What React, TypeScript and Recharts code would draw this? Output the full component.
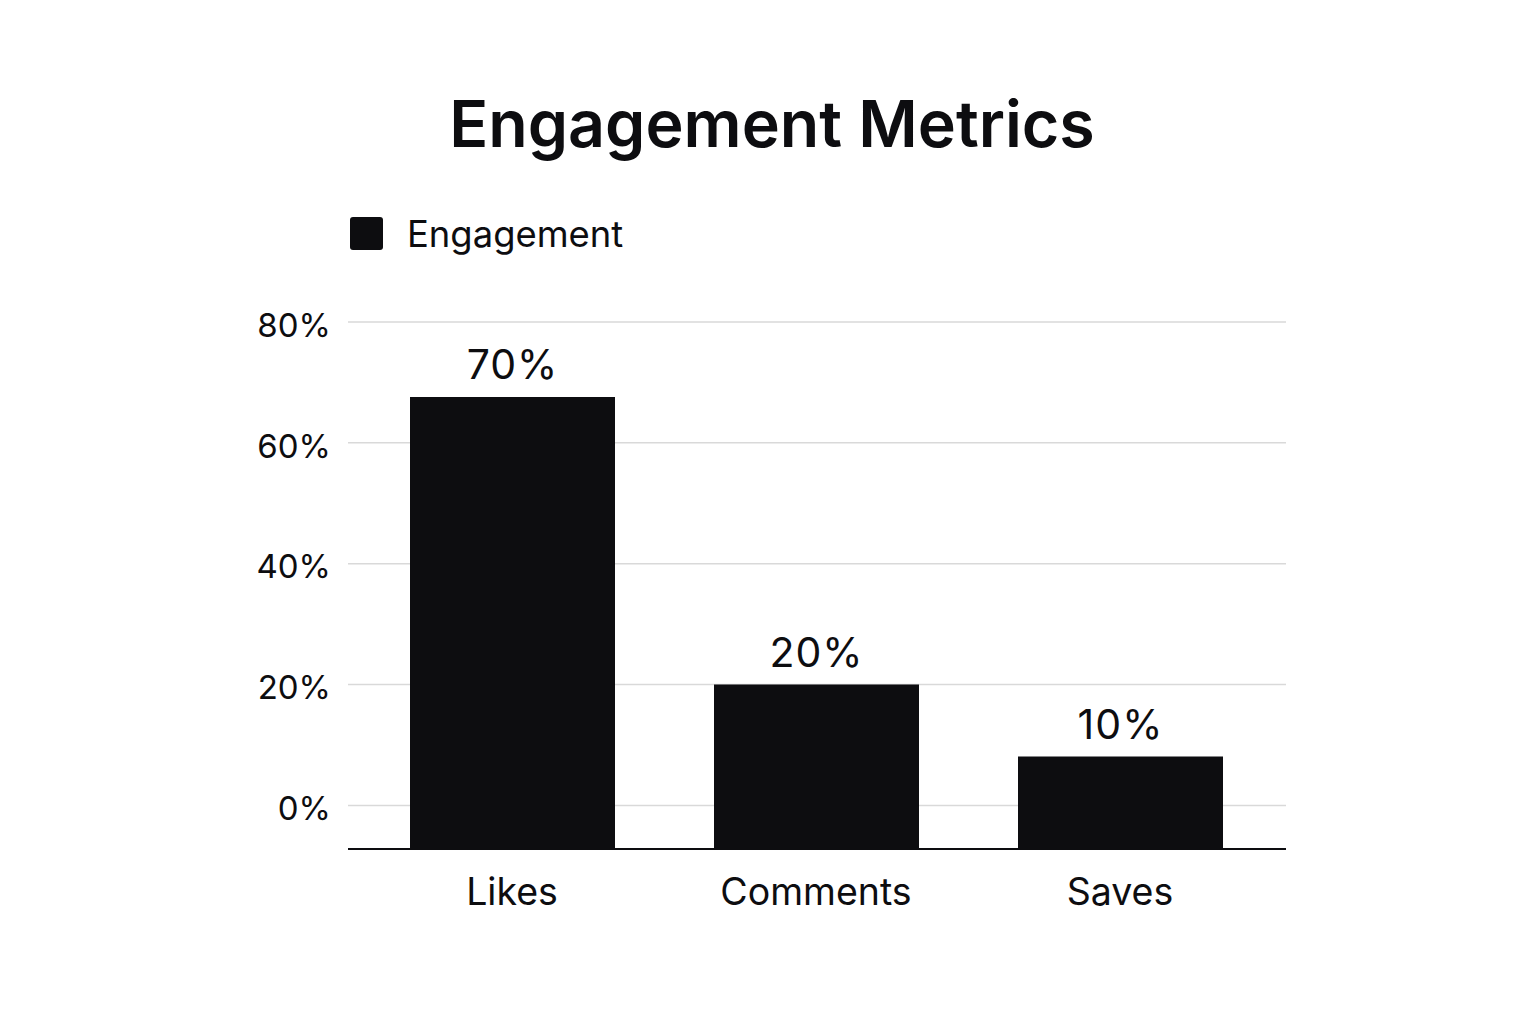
import React from "react";
import { BarChart, Bar, XAxis, YAxis, CartesianGrid, LabelList } from "recharts";

const categories = ["Likes", "Comments", "Saves"];
const engagement = [67.6, 20, 8.1];
const valueLabels = ["70%", "20%", "10%"];
const yTicks = [0, 20, 40, 60, 80];
const Y_MIN = -7.2;
const Y_MAX = 80;

const data = categories.map((name, i) => ({
  name,
  value: engagement[i],
  label: valueLabels[i],
}));

const FONT = "Inter, 'Noto Sans', sans-serif";
const INK = "#0d0d10";

export default function App() {
  return (
    <div
      style={{
        position: "absolute",
        left: 0,
        top: 0,
        width: 1536,
        height: 1024,
        background: "#ffffff",
        fontFamily: FONT,
        overflow: "hidden",
      }}
    >
      <div
        style={{
          position: "absolute",
          left: 4,
          top: 92,
          width: 1536,
          textAlign: "center",
          fontSize: 64.5,
          lineHeight: "64.5px",
          fontWeight: 600,
          color: INK,
        }}
      >
        Engagement Metrics
      </div>
      <div
        style={{
          position: "absolute",
          left: 350,
          top: 217,
          width: 33,
          height: 33,
          borderRadius: 3,
          background: INK,
        }}
      />
      <div
        style={{
          position: "absolute",
          left: 407,
          top: 216,
          fontSize: 36.4,
          lineHeight: "36.4px",
          color: INK,
        }}
      >
        Engagement
      </div>
      <div style={{ position: "absolute", left: 0, top: 0 }}>
        <BarChart
          width={1536}
          height={1024}
          data={data}
          margin={{ top: 322, right: 250, bottom: 115, left: 288 }}
        >
          <CartesianGrid vertical={false} stroke="#d9d9d9" strokeWidth={1.5} />
          <XAxis
            dataKey="name"
            height={60}
            padding={{ left: 12, right: 14 }}
            axisLine={{ stroke: INK, strokeWidth: 2 }}
            tickLine={false}
            tickSize={0}
            tickMargin={29}
            tick={{ fill: INK, fontSize: 37.5, fontFamily: FONT }}
          />
          <YAxis
            width={60}
            domain={[Y_MIN, Y_MAX]}
            ticks={yTicks}
            allowDataOverflow
            axisLine={false}
            tickLine={false}
            tickSize={0}
            tickMargin={17}
            tickFormatter={(v: number) => `${v}%`}
            tick={{ fill: INK, fontSize: 33, fontFamily: FONT, dy: 3 }}
          />
          <Bar
            dataKey={(d: any) => [Y_MIN, d.value]}
            fill={INK}
            barSize={205}
            isAnimationActive={false}
          >
            <LabelList
              dataKey="label"
              position="top"
              offset={18}
              fill={INK}
              fontSize={41}
              fontFamily={FONT}
              letterSpacing={1}
            />
          </Bar>
        </BarChart>
      </div>
    </div>
  );
}
